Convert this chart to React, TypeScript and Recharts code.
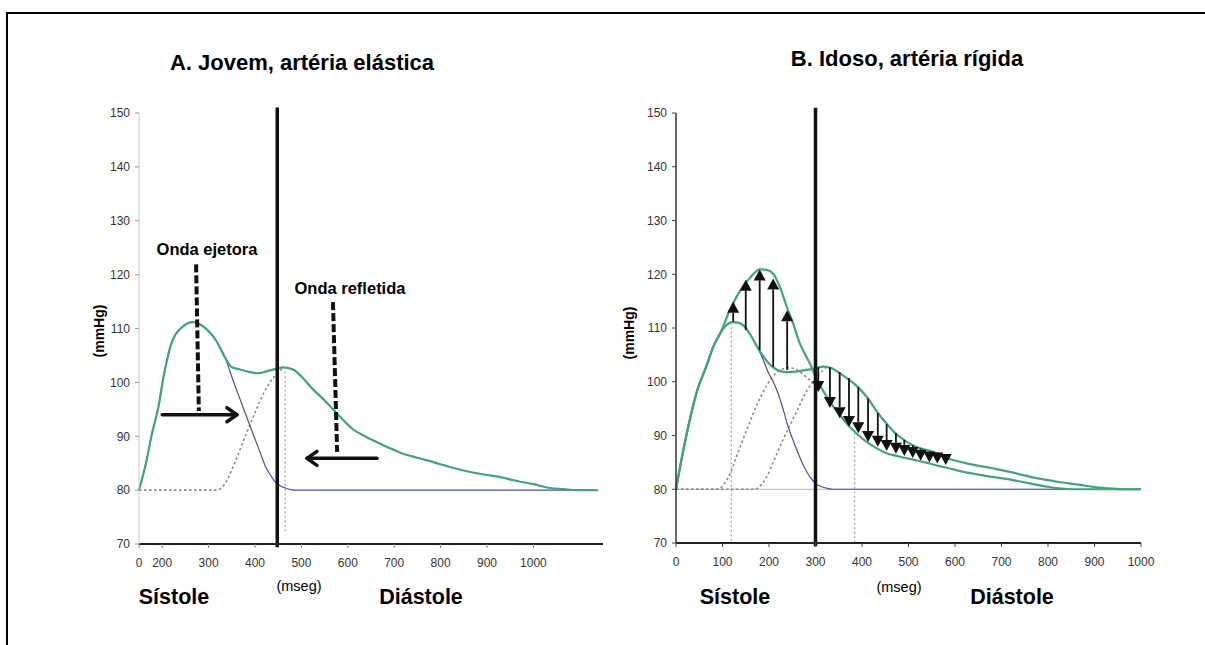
import React from "react"
import { LineChart, Line, XAxis, YAxis, ReferenceLine } from "recharts"

// ---- Panel A: young, elastic artery (x axis is shifted: "0" sits at 150) ----
const aXTicks = [150, 200, 300, 400, 500, 600, 700, 800, 900, 1000]
const aXTickLabels = ["0", "200", "300", "400", "500", "600", "700", "800", "900", "1000"]
const yTicks = [70, 80, 90, 100, 110, 120, 130, 140, 150]

const aTotalT = [150, 165, 178, 192, 202, 221, 245, 266, 288, 318, 336, 350, 368, 389, 408, 426, 445, 460, 482, 503, 525, 547, 568, 590, 611, 637, 663, 690, 712, 750, 784, 820, 857, 893, 928, 965, 1000, 1036, 1065, 1094, 1139]
const aTotalV = [80, 85, 90.5, 95.5, 100.6, 107.5, 110.4, 111.2, 110.4, 107.5, 104.5, 102.8, 102.4, 101.9, 101.7, 102.1, 102.5, 102.8, 102.4, 100.8, 98.7, 96.9, 95, 93, 91.3, 90, 88.9, 87.8, 87, 86, 85.2, 84.3, 83.5, 82.9, 82.4, 81.7, 81.1, 80.4, 80.2, 80, 80]

const aEjectT = [150, 165, 178, 192, 202, 221, 245, 266, 288, 318, 336, 353, 365, 378, 389, 400, 411, 422, 433, 443, 454, 465, 478, 490, 1094]
const aEjectV = [80, 85, 90.5, 95.5, 100.6, 107.5, 110.4, 111.2, 110.4, 107.5, 104.5, 100.3, 97.5, 94.5, 92, 89.5, 87, 84.5, 82.8, 81.6, 80.8, 80.4, 80.1, 80, 80]

const aReflT = [150, 316, 330, 340, 357, 378, 400, 421, 440, 460, 465]
const aReflV = [80, 80, 80.6, 81.9, 85.2, 89.8, 94.4, 98.4, 100.9, 102.6, 102.8]

// ---- Panel B: elderly, stiff artery ----
const bXTicks = [0, 100, 200, 300, 400, 500, 600, 700, 800, 900, 1000]

const bYoungT = [0, 14, 28, 46, 65, 80, 95, 108, 120, 133, 146, 161, 176, 192, 207, 228, 245, 258, 280, 300, 317, 335, 352, 370, 390, 410, 435, 455, 472, 490, 509, 550, 582, 620, 680, 725, 768, 820, 869, 900, 940, 960, 1000]
const bYoungV = [80, 86.5, 92.3, 98.5, 102.8, 106.5, 109, 110.5, 111.1, 111, 110.4, 108.6, 106.3, 104.2, 102.8, 101.9, 101.8, 101.9, 102.2, 102.5, 102.8, 102.5, 101.6, 100.5, 99.1, 97.2, 94.1, 92, 90.4, 89.2, 88.2, 87, 85.8, 84.9, 83.9, 83.1, 82.2, 81.4, 80.8, 80.4, 80.1, 80, 80]

const bOldT = [0, 14, 28, 46, 65, 80, 95, 102, 112, 123, 137, 152, 166, 180, 195, 209, 224, 238, 252, 266, 277, 288, 302, 320, 338, 356, 374, 392, 410, 430, 453, 480, 510, 540, 567, 582, 632, 680, 725, 760, 797, 820, 840, 860, 1000]
const bOldV = [80, 86.5, 92.3, 98.5, 102.8, 106.5, 109, 110.4, 112.6, 114.6, 116.8, 118.6, 120, 120.9, 120.8, 120.1, 117.5, 114, 110.8, 107.2, 105.2, 103.4, 100.6, 97.8, 95.4, 93.4, 91.6, 90.1, 88.8, 87.7, 86.7, 86.1, 85.5, 84.9, 84.3, 84, 83, 82.3, 81.7, 81.1, 80.5, 80.2, 80.05, 80, 80]

const bEjectT = [0, 14, 28, 46, 65, 80, 95, 108, 120, 133, 146, 161, 176, 188, 198, 208, 218, 230, 242, 254, 266, 277, 288, 300, 312, 324, 338, 850]
const bEjectV = [80, 86.5, 92.3, 98.5, 102.8, 106.5, 109, 110.5, 111.1, 111, 110.4, 108.6, 106.3, 104, 101.8, 100.2, 98.2, 95, 91.4, 88.6, 86, 83.9, 82.3, 81.1, 80.5, 80.2, 80, 80]

const bEarlyReflT = [0, 90, 105, 117, 128, 139, 150, 161, 172, 182, 195, 207, 218, 228, 242, 255, 266, 277, 288, 298]
const bEarlyReflV = [80, 80, 81.2, 83, 85.6, 88.1, 90.6, 93, 95.3, 97.2, 99.3, 100.9, 101.8, 102.3, 102.6, 102.4, 101.9, 101.1, 100.3, 99.5]

const bLateReflT = [0, 170, 185, 195, 213, 230, 245, 258, 280, 302, 322]
const bLateReflV = [80, 80, 81, 82.3, 85.8, 89.2, 91.9, 94.2, 98.1, 100.9, 102.5]

// arrows between the two totals
const bUpT = [123, 150, 180, 209, 239]
const bUpFrom = [111.2, 109.6, 105.9, 102.8, 102.2]
const bUpTo = [114.9, 119, 120.9, 119.2, 113.3]

const bDownT = [306, 331, 352, 372, 392, 413, 434, 453, 473, 491, 509, 526, 545, 562, 580]
const bDownFrom = [102.7, 102.7, 101.8, 100.7, 99, 96.9, 94.2, 92.1, 90.4, 89.2, 88.2, 87.6, 87, 86.4, 85.8]
const bDownTo = [98.1, 95.1, 93.2, 91.6, 90.4, 88.8, 87.9, 87.1, 86.6, 86.2, 85.8, 85.3, 85, 84.8, 84.5]

const toPoints = (t: number[], v: number[]) => t.map((x, i) => ({ t: x, v: v[i] }))

const GREEN = "#45a27a"
const BLUE = "#4a4fa8"
const GRAY = "#8c8c8c"
const FONT = '"Liberation Sans", Arial, sans-serif'

// filled triangle head, pointing from (x1,y1) to (x2,y2) vertically
const TriArrow = (props: any) => {
  const { x1, y1, x2, y2 } = props
  const dir = y2 < y1 ? 1 : -1
  const h = 11
  const w = 6
  const baseY = y2 + dir * h
  return (
    <g>
      <line x1={x1} y1={y1} x2={x2} y2={baseY} stroke="#111" strokeWidth={1.8} />
      <polygon points={`${x2},${y2} ${x2 - w},${baseY} ${x2 + w},${baseY}`} fill="#111" />
    </g>
  )
}

// thick horizontal arrow with an open head
const OpenArrow = (props: any) => {
  const { x1, y1, x2, y2 } = props
  const dir = x2 > x1 ? 1 : -1
  return (
    <g stroke="#111" strokeWidth={3.5} strokeLinecap="round" fill="none">
      <line x1={x1} y1={y1} x2={x2} y2={y2} />
      <polyline points={`${x2 - dir * 10},${y2 - 7} ${x2},${y2} ${x2 - dir * 10},${y2 + 7}`} strokeLinejoin="round" />
    </g>
  )
}

const text = (s: string, cx: number, cy: number, size: number, bold: boolean, rotate = false) => (
  <div
    style={{
      position: "absolute",
      left: cx,
      top: cy,
      transform: `translate(-50%, -50%)${rotate ? " rotate(-90deg)" : ""}`,
      fontFamily: FONT,
      fontSize: size,
      fontWeight: bold ? 700 : 400,
      lineHeight: 1,
      whiteSpace: "nowrap",
      color: "#000",
    }}
  >
    {s}
  </div>
)

const tickStyle = { fill: "#333", fontSize: 12, fontFamily: FONT }

export default function App() {
  return (
    <div style={{ position: "absolute", left: 0, top: 0, width: 1205, height: 645, background: "#fff", overflow: "hidden" }}>
      <div style={{ position: "absolute", left: 6, top: 12, width: 1210, height: 650, borderTop: "2.5px solid #000", borderLeft: "2px solid #000" }} />

      {text("A. Jovem, artéria elástica", 302, 63, 22, true)}
      {text("B. Idoso, artéria rígida", 907, 59, 22, true)}

      <div style={{ position: "absolute", left: 80, top: 100 }}>
        <LineChart width={540} height={470} margin={{ top: 13, right: 17, bottom: 0, left: 19 }}>
          <XAxis
            type="number"
            dataKey="t"
            domain={[150, 1150]}
            ticks={aXTicks}
            interval={0}
            tickFormatter={(v: number) => aXTickLabels[aXTicks.indexOf(v)]}
            height={26}
            tickSize={4}
            tickMargin={10}
            tick={tickStyle}
            axisLine={{ stroke: "#222", strokeWidth: 2 }}
            tickLine={{ stroke: "#888" }}
          />
          <YAxis
            type="number"
            domain={[70, 150]}
            ticks={yTicks}
            interval={0}
            width={40}
            tickSize={4}
            tickMargin={5}
            tick={tickStyle}
            axisLine={{ stroke: "#c8c8c8" }}
            tickLine={{ stroke: "#999" }}
          />
          <Line data={toPoints(aReflT, aReflV)} dataKey="v" type="monotone" stroke={GRAY} strokeWidth={1.6} strokeDasharray="2.5 2.5" dot={false} activeDot={false} isAnimationActive={false} />
          <Line data={toPoints(aEjectT, aEjectV)} dataKey="v" type="monotone" stroke={BLUE} strokeWidth={1.2} dot={false} activeDot={false} isAnimationActive={false} />
          <Line data={toPoints(aTotalT, aTotalV)} dataKey="v" type="monotone" stroke={GREEN} strokeWidth={2.2} dot={false} activeDot={false} isAnimationActive={false} />
          <ReferenceLine segment={[{ x: 465, y: 102.8 }, { x: 465, y: 72 }]} stroke="#aaa" strokeWidth={1.3} strokeDasharray="2 2.5" ifOverflow="visible" />
          <ReferenceLine segment={[{ x: 448, y: 151 }, { x: 448, y: 69.4 }]} stroke="#111" strokeWidth={3.5} ifOverflow="visible" />
          <ReferenceLine segment={[{ x: 273, y: 121.9 }, { x: 279, y: 94.7 }]} stroke="#111" strokeWidth={4} strokeDasharray="8 3" />
          <ReferenceLine segment={[{ x: 568, y: 114.9 }, { x: 577, y: 87.1 }]} stroke="#111" strokeWidth={4} strokeDasharray="8 3" />
          <ReferenceLine segment={[{ x: 200, y: 94 }, { x: 361, y: 94 }]} shape={OpenArrow} />
          <ReferenceLine segment={[{ x: 663, y: 85.9 }, { x: 512, y: 85.9 }]} shape={OpenArrow} />
        </LineChart>
      </div>

      <div style={{ position: "absolute", left: 620, top: 100 }}>
        <LineChart width={540} height={470} margin={{ top: 13, right: 19, bottom: 0, left: 16 }}>
          <XAxis
            type="number"
            dataKey="t"
            domain={[0, 1000]}
            ticks={bXTicks}
            interval={0}
            height={27}
            tickSize={4}
            tickMargin={10}
            tick={tickStyle}
            axisLine={{ stroke: "#222", strokeWidth: 2 }}
            tickLine={{ stroke: "#444" }}
          />
          <YAxis
            type="number"
            domain={[70, 150]}
            ticks={yTicks}
            interval={0}
            width={40}
            tickSize={4}
            tickMargin={5}
            tick={tickStyle}
            axisLine={{ stroke: "#333", strokeWidth: 1.5 }}
            tickLine={{ stroke: "#444" }}
          />
          <ReferenceLine y={80} stroke="#b5b5b5" strokeWidth={1} />
          <Line data={toPoints(bEarlyReflT, bEarlyReflV)} dataKey="v" type="monotone" stroke={GRAY} strokeWidth={1.6} strokeDasharray="2.5 2.5" dot={false} activeDot={false} isAnimationActive={false} />
          <Line data={toPoints(bLateReflT, bLateReflV)} dataKey="v" type="monotone" stroke={GRAY} strokeWidth={1.6} strokeDasharray="2.5 2.5" dot={false} activeDot={false} isAnimationActive={false} />
          <Line data={toPoints(bEjectT, bEjectV)} dataKey="v" type="monotone" stroke={BLUE} strokeWidth={1.2} dot={false} activeDot={false} isAnimationActive={false} />
          <Line data={toPoints(bYoungT, bYoungV)} dataKey="v" type="monotone" stroke={GREEN} strokeWidth={2.2} dot={false} activeDot={false} isAnimationActive={false} />
          <Line data={toPoints(bOldT, bOldV)} dataKey="v" type="monotone" stroke={GREEN} strokeWidth={2.2} dot={false} activeDot={false} isAnimationActive={false} />
          <ReferenceLine segment={[{ x: 119, y: 111 }, { x: 119, y: 70 }]} stroke="#aaa" strokeWidth={1.3} strokeDasharray="2 2.5" />
          <ReferenceLine segment={[{ x: 384, y: 90.5 }, { x: 384, y: 70 }]} stroke="#aaa" strokeWidth={1.3} strokeDasharray="2 2.5" />
          {bUpT.map((t, i) => (
            <ReferenceLine key={`u${i}`} segment={[{ x: t, y: bUpFrom[i] }, { x: t, y: bUpTo[i] }]} shape={TriArrow} />
          ))}
          {bDownT.map((t, i) => (
            <ReferenceLine key={`d${i}`} segment={[{ x: t, y: bDownFrom[i] }, { x: t, y: bDownTo[i] }]} shape={TriArrow} />
          ))}
          <ReferenceLine segment={[{ x: 300, y: 151 }, { x: 300, y: 69.4 }]} stroke="#111" strokeWidth={3.5} ifOverflow="visible" />
        </LineChart>
      </div>

      {text("(mmHg)", 99, 331, 14, true, true)}
      {text("(mmHg)", 629, 333, 14, true, true)}
      {text("Onda ejetora", 207, 249, 16.5, true)}
      {text("Onda refletida", 350, 288, 16.5, true)}
      {text("(mseg)", 299, 586, 14.5, false)}
      {text("(mseg)", 899, 587, 14.5, false)}
      {text("Sístole", 174, 598, 21.5, true)}
      {text("Diástole", 421, 598, 21.5, true)}
      {text("Sístole", 735, 598, 21.5, true)}
      {text("Diástole", 1012, 598, 21.5, true)}
    </div>
  )
}
